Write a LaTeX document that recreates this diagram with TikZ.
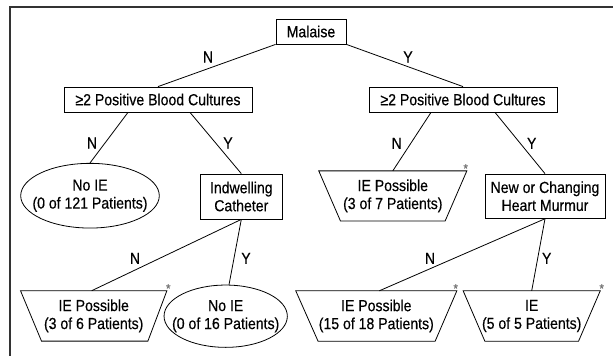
\documentclass[tikz,border=0pt]{standalone}
\usepackage{fontspec}
\setmainfont{Liberation Sans}[FakeStretch=0.88,FakeBold=0.4]
\usetikzlibrary{shapes.geometric,calc}
\tikzset{
  txt/.style={font=\fontsize{16}{18}\selectfont, align=center, inner sep=0pt},
  rbox/.style={txt, draw, line width=0.8pt},
  ebox/.style={draw, ellipse, inner sep=0pt, line width=0.8pt},
  tbox/.style={txt},
  conn/.style={line width=0.8pt},
  lab/.style={font=\fontsize{16}{18}\selectfont, inner sep=0pt},
  ast/.style={font=\fontsize{13}{13}\selectfont, text=black!55, inner sep=0pt},
  frame/.style={line width=1.6pt, draw=black!80}
}
\newcommand{\trapdraw}[3]{% name, left inset, right inset
  \draw[line width=0.8pt] (#1.north west) -- (#1.north east)
    -- ($(#1.south east)+(-#3,0)$) -- ($(#1.south west)+(#2,0)$) -- cycle;}
\begin{document}
\begin{tikzpicture}[x=1pt,y=-1pt]
\useasboundingbox (0,0) rectangle (613,356);
\coordinate (ftl) at (10,7);
\coordinate (ftr) at (613,7);
\coordinate (fbl) at (10,356);
\draw[frame] (ftr) -- (ftl) -- (fbl);

\node[rbox, minimum width=70pt, minimum height=25pt] (mal) at (311,31.5) {Malaise};
\node[rbox, minimum width=188pt, minimum height=25pt] (b1) at (158,99.5) {≥2 Positive Blood Cultures};
\node[rbox, minimum width=188pt, minimum height=25pt] (b2) at (463,99.5) {≥2 Positive Blood Cultures};

\node[ebox, minimum width=138.6pt, minimum height=64.7pt] (ie1) at (90,195.7) {};
\node[txt] (ie1t) at (ie1.center) {No IE\\(0 of 121 Patients)};
\node[rbox, minimum width=82.7pt, minimum height=45pt] (ind) at (241.3,196.5) {Indwelling\\Catheter};
\node[tbox, minimum width=147.7pt, minimum height=49.7pt] (p1) at (392.8,195.9) {IE Possible\\(3 of 7 Patients)};
\node[rbox, minimum width=120pt, minimum height=44.3pt] (ncm) at (545,196.2) {New or Changing\\Heart Murmur};

\node[tbox, minimum width=146pt, minimum height=50pt] (p2) at (93.7,315.9) {IE Possible\\(3 of 6 Patients)};
\node[ebox, minimum width=123.3pt, minimum height=62.3pt] (ie2) at (225.7,316.2) {};
\node[txt] (ie2t) at (ie2.center) {No IE\\(0 of 16 Patients)};
\node[tbox, minimum width=160.7pt, minimum height=50pt] (p3) at (376.3,316) {IE Possible\\(15 of 18 Patients)};
\node[tbox, minimum width=136.7pt, minimum height=50pt] (p4) at (531.7,316) {IE\\(5 of 5 Patients)};

\trapdraw{p1}{21.7}{21.7}
\trapdraw{p2}{21}{19}
\trapdraw{p3}{22.3}{21.7}
\trapdraw{p4}{21.7}{21.7}

\draw[conn] (mal.south west) -- (b1.north);
\draw[conn] (mal.south east) -- (b2.north);
\draw[conn] ($(b1.south)+(-30,0)$) -- (ie1.north);
\draw[conn] ($(b1.south)+(32,0)$) -- (ind.north);
\draw[conn] ($(b2.south)+(-32,0)$) -- (p1.north);
\draw[conn] ($(b2.south)+(32,0)$) -- (ncm.north);
\draw[conn] (ind.south) -- ($(p2.north)+(-2,0)$);
\draw[conn] (ind.south) -- (ie2.84);
\draw[conn] (ncm.south) -- ($(p3.north)+(3,0)$);
\draw[conn] (ncm.south) -- (p4.north);

\node[lab] (l1) at (208,57) {N};
\node[lab] (l2) at (408,57) {Y};
\node[lab] (l3) at (92,143) {N};
\node[lab] (l4) at (228,143) {Y};
\node[lab] (l5) at (396.7,143.3) {N};
\node[lab] (l6) at (531.7,143.3) {Y};
\node[lab] (l7) at (135,258.3) {N};
\node[lab] (l8) at (246,258.3) {Y};
\node[lab] (l9) at (430,258.3) {N};
\node[lab] (l10) at (546.7,258.3) {Y};

\node[ast] (a1) at (465.7,168.5) {*};
\node[ast] (a2) at (168.3,288.5) {*};
\node[ast] (a3) at (455.7,288.5) {*};
\node[ast] (a4) at (601.7,288.5) {*};
\end{tikzpicture}
\end{document}
